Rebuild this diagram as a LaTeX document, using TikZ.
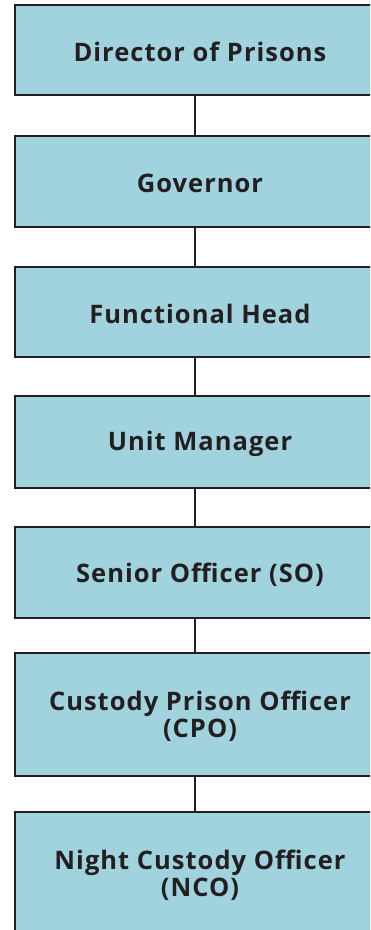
\documentclass[tikz,border=0pt]{standalone}
\usepackage{fontspec}
\setmainfont{Open Sans}[LetterSpace=4]
\definecolor{boxfill}{RGB}{161,211,222}
\definecolor{ink}{RGB}{35,31,32}
\begin{document}
\begin{tikzpicture}[x=1pt,y=-1pt,
  rank/.style={draw=ink, line width=1.8pt, fill=boxfill,
    minimum width=360pt, inner sep=0pt},
  tag/.style={text=ink, align=center, inner sep=0pt, xshift=5pt, yshift=-2pt,
    font=\fontsize{25.5}{27.5}\selectfont\bfseries},
  link/.style={draw=ink, line width=1.8pt}]
\useasboundingbox (0,0) rectangle (370,930);
\begin{scope}
\clip (0,0) rectangle (370,930);
\node[rank, minimum height=90pt, label={[tag]center:Director of Prisons}]  (dir) at (195,50) {};
\node[rank, minimum height=91pt, label={[tag]center:Governor}]  (gov) at (195,181.5) {};
\node[rank, minimum height=90pt, label={[tag]center:Functional Head}]  (fun) at (195,312) {};
\node[rank, minimum height=92pt, label={[tag]center:Unit Manager}]  (uni) at (195,442) {};
\node[rank, minimum height=91pt, label={[tag]center:Senior Officer (SO)}]  (sen) at (195,572.5) {};
\node[rank, minimum height=123pt, label={[tag]center:Custody Prison Officer\\(CPO)}] (cus) at (195,714.5) {};
\node[rank, minimum height=123pt, label={[tag]center:Night Custody Officer\\(NCO)}] (nig) at (195,873.5) {};
\draw[link] (dir.south) -- (gov.north);
\draw[link] (gov.south) -- (fun.north);
\draw[link] (fun.south) -- (uni.north);
\draw[link] (uni.south) -- (sen.north);
\draw[link] (sen.south) -- (cus.north);
\draw[link] (cus.south) -- (nig.north);
\end{scope}
\end{tikzpicture}
\end{document}
